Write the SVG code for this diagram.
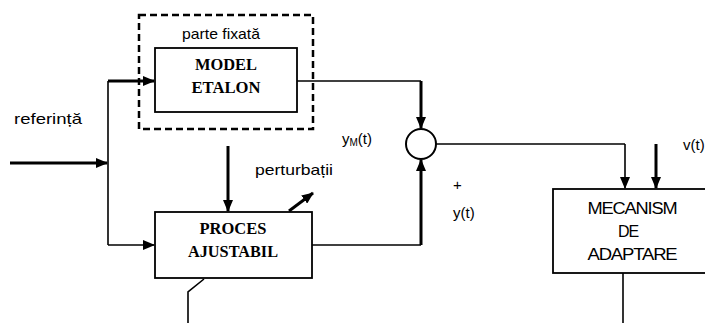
<svg xmlns="http://www.w3.org/2000/svg" width="705" height="323" viewBox="0 0 705 323">
<defs>
<marker id="ah" markerUnits="userSpaceOnUse" markerWidth="12" markerHeight="10" refX="11" refY="5" orient="auto"><path d="M0,0 L12,5 L0,10 Z" fill="#000"/></marker>
<style>
.ln{fill:none;stroke:#000;stroke-width:1.6}
.tk{fill:none;stroke:#000;stroke-width:3}
.box{fill:#fff;stroke:#000;stroke-width:1.8}
.dash{fill:none;stroke:#000;stroke-width:2.5;stroke-dasharray:7,4}
.lb{font-family:"Liberation Sans","DejaVu Sans",sans-serif;font-size:15px;fill:#000}
.sr{font-family:"Liberation Serif","DejaVu Serif",serif;font-size:17px;font-weight:bold;fill:#000;text-anchor:middle}
.ss{font-family:"Liberation Sans","DejaVu Sans",sans-serif;font-size:16px;fill:#000;text-anchor:middle;letter-spacing:-1px}
</style>
</defs>
<rect width="705" height="323" fill="#fff"/>
<g id="connectors">
<path class="tk" d="M10,163 H107" marker-end="url(#ah)"/>
<path class="ln" d="M108,81 V245"/>
<path class="tk" d="M108,81 H154" marker-end="url(#ah)"/>
<path class="ln" d="M108,245 H154" marker-end="url(#ah)"/>
<path class="ln" d="M297,81 H421"/>
<path class="tk" d="M421,81 V128" marker-end="url(#ah)"/>
<path class="ln" d="M312,245 H421"/>
<path class="tk" d="M421,245 V160" marker-end="url(#ah)"/>
<path class="ln" d="M436,144 H625"/>
<path class="ln" d="M625,144 V188" marker-end="url(#ah)"/>
<path class="tk" d="M656,144 V188" marker-end="url(#ah)"/>
<path class="tk" d="M228,146 V211" marker-end="url(#ah)"/>
<path class="tk" d="M289,211 L313,193" marker-end="url(#ah)"/>
<path class="ln" d="M204,279 L188,292 V323"/>
<path class="ln" d="M623,273 V323"/>
</g>
<g id="parte-fixata">
<rect class="dash" x="139" y="15" width="174" height="114"/>
<text class="lb" x="221" y="39" text-anchor="middle" textLength="78" lengthAdjust="spacingAndGlyphs">parte fixată</text>
</g>
<g id="model-etalon">
<rect class="box" x="155" y="48" width="142" height="64"/>
<text class="sr" x="226" y="70" textLength="62" lengthAdjust="spacingAndGlyphs">MODEL</text>
<text class="sr" x="226" y="93" textLength="69" lengthAdjust="spacingAndGlyphs">ETALON</text>
</g>
<g id="proces-ajustabil">
<rect class="box" x="155" y="212" width="157" height="66"/>
<text class="sr" x="233" y="234" textLength="67" lengthAdjust="spacingAndGlyphs">PROCES</text>
<text class="sr" x="233" y="257" textLength="90" lengthAdjust="spacingAndGlyphs">AJUSTABIL</text>
</g>
<g id="sumator">
<circle cx="421" cy="144" r="15" fill="#fff" stroke="#000" stroke-width="2"/>
</g>
<g id="mecanism">
<rect class="box" x="553" y="189" width="160" height="84"/>
<text class="ss" x="632" y="214" textLength="89" lengthAdjust="spacingAndGlyphs">MECANISM</text>
<text class="ss" x="628" y="237">DE</text>
<text class="ss" x="632" y="260" textLength="89" lengthAdjust="spacingAndGlyphs">ADAPTARE</text>
</g>
<g id="labels">
<text class="lb" x="14" y="124" textLength="68" lengthAdjust="spacingAndGlyphs">referință</text>
<text class="lb" x="255" y="175" textLength="78" lengthAdjust="spacingAndGlyphs">perturbații</text>
<text class="lb" x="342" y="144">y<tspan font-size="10" dy="2">M</tspan><tspan dy="-2">(t)</tspan></text>
<text class="lb" x="453" y="190">+</text>
<text class="lb" x="453" y="218">y(t)</text>
<text class="lb" x="683" y="150">v(t)</text>
</g>
</svg>
